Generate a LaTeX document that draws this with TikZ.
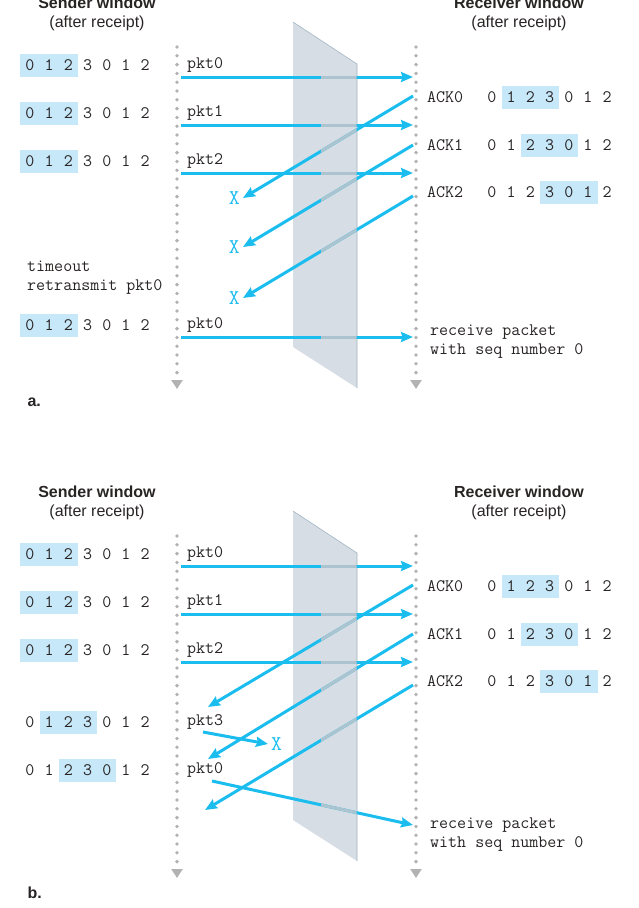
\documentclass[tikz,border=0pt]{standalone}
\usepackage{fontspec}
\setmainfont{Liberation Sans}
\usetikzlibrary{arrows.meta,positioning}
\definecolor{pktblue}{RGB}{27,189,239}
\definecolor{fadeblue}{RGB}{172,196,207}
\definecolor{winblue}{RGB}{199,232,249}
\definecolor{planegray}{RGB}{214,221,228}
\definecolor{planeedge}{RGB}{160,182,196}
\definecolor{dotgray}{RGB}{178,178,178}
\definecolor{ink}{RGB}{40,36,36}
\tikzset{
    >={Stealth[length=12pt,width=10pt,inset=1.5pt]},
    pkt/.style={->,line width=3pt,draw=pktblue},
    faded/.style={line width=3pt,draw=fadeblue},
    timeline/.style={line width=3.8pt,draw=dotgray,line cap=round,dash pattern=on 0pt off 8.8pt,-{Triangle[length=9pt,width=11pt,fill=dotgray]}},
    mono/.style={font=\ttfamily\fontsize{17.5}{19}\selectfont,text=ink,inner sep=0pt},
    dig/.style={mono,minimum width=19.2pt,minimum height=23pt},
    lost/.style={mono,text=pktblue,font=\ttfamily\fontsize{21}{21}\selectfont},
    head/.style={font=\fontsize{16}{19}\selectfont,text=ink,align=center},
    panel/.style={font=\bfseries\fontsize{16}{19}\selectfont,text=ink},
    plane/.style={fill=planegray},
}
% one row of sequence numbers, window from #4 to #5
\newcommand\winrow[5]{%
    \foreach \d [count=\i from 0] in {0,1,2,3,0,1,2}{
        \ifnum\i<#4\relax \def\wf{none}\else\ifnum\i>#5\relax \def\wf{none}\else\def\wf{winblue}\fi\fi
        \node[dig,fill=\wf] (#1\i) at ({#2+19.2*\i},#3) {\d};
    }}

\begin{document}
\begin{tikzpicture}[x=1pt,y=-1pt]
    \useasboundingbox (0,0) rectangle (638,908);

    \foreach \p/\dy/\pb in {a/0/347,b/489/331}{
        \begin{scope}[yshift=-\dy pt]
            \fill[plane] (293,22) -- (357,64) -- (357,\pb+41) -- (293,\pb) -- cycle;
            \draw[planeedge,line width=0.6pt] (293,22) -- (357,64) -- (357,\pb+41);
            \coordinate (tl\p1) at (177,47); \coordinate (tl\p2) at (177,389);
            \coordinate (tr\p1) at (416,47); \coordinate (tr\p2) at (416,389);
            \draw[timeline] (tl\p1) -- (tl\p2);
            \draw[timeline] (tr\p1) -- (tr\p2);
            \node[head] (sh\p) at (97,14) {\textbf{Sender window}\\(after receipt)};
            \node[head] (rh\p) at (519,14) {\textbf{Receiver window}\\(after receipt)};
            \foreach \k/\yy/\ry/\ky in {0/65/97/96,1/113/145/145,2/161/192/196}{
                \winrow{sw\p\k-}{30}{\yy}{0}{2}
                \node[mono,anchor=west] (pl\p\k) at (187,\yy) {pkt\k};
                \coordinate (s\p\k) at (181,\yy+12);
                \coordinate (r\p\k) at (413,\yy+12);
                \draw[pkt] (s\p\k) -- (r\p\k);
                \node[mono,anchor=west] (ak\p\k) at (427,\ry) {ACK\k};
                \pgfmathtruncatemacro\wlo{\k+1}\pgfmathtruncatemacro\whi{\k+3}
                \winrow{rw\p\k-}{492}{\ry}{\wlo}{\whi}
                \coordinate (k\p\k) at (413,\ky);
            }
        \end{scope}
    }

    % a.
    \foreach \k/\ex/\ey in {0/243/198,1/243/247,2/243/298}{
        \coordinate (ea\k) at (\ex,\ey);
        \draw[pkt] (ka\k) -- (ea\k);
        \node[lost,left=3pt of ea\k] (xa\k) {X};
    }
    \node[mono,align=left,anchor=west] (tmo) at (27,277.5) {timeout\\retransmit pkt0};
    \winrow{swa3-}{30}{325}{0}{2}
    \node[mono,anchor=west] (pla3) at (187,325) {pkt0};
    \coordinate (sa3) at (181,337); \coordinate (ra3) at (413,337);
    \draw[pkt] (sa3) -- (ra3);
    \node[mono,align=left,anchor=west] (rcva) at (430,341.5) {receive packet\\with seq number 0};
    \node[panel,anchor=west] (la) at (24,402) {a.};

    % b.
    \foreach \k/\ex/\ey in {0/208/707,1/208/759,2/205/810}{
        \coordinate (eb\k) at (\ex,\ey);
        \draw[pkt] (kb\k) -- (eb\k);
    }
    \winrow{swb3-}{30}{722}{1}{3}
    \node[mono,anchor=west] (plb3) at (187,722) {pkt3};
    \coordinate (sb3) at (203,732); \coordinate (rb3) at (268,744);
    \draw[pkt] (sb3) -- (rb3);
    \node[lost,right=3pt of rb3] (xb3) {X};
    \winrow{swb4-}{30}{770}{2}{4}
    \node[mono,anchor=west] (plb4) at (187,770) {pkt0};
    \coordinate (sb4) at (212,781); \coordinate (rb4) at (413,825);
    \draw[pkt] (sb4) -- (rb4);
    \node[mono,align=left,anchor=west] (rcvb) at (430,834.5) {receive packet\\with seq number 0};
    \node[panel,anchor=west] (lb) at (24,893) {b.};

    % parts behind the plane
    \begin{scope}
        \clip (321,0) rectangle (356.6,908);
        \foreach \u/\v in {sa0/ra0,sa1/ra1,sa2/ra2,sa3/ra3,ka0/ea0,ka1/ea1,ka2/ea2,sb0/rb0,sb1/rb1,sb2/rb2,sb4/rb4,kb0/eb0,kb1/eb1,kb2/eb2}
            \draw[faded] (\u) -- (\v);
    \end{scope}
\end{tikzpicture}
\end{document}
